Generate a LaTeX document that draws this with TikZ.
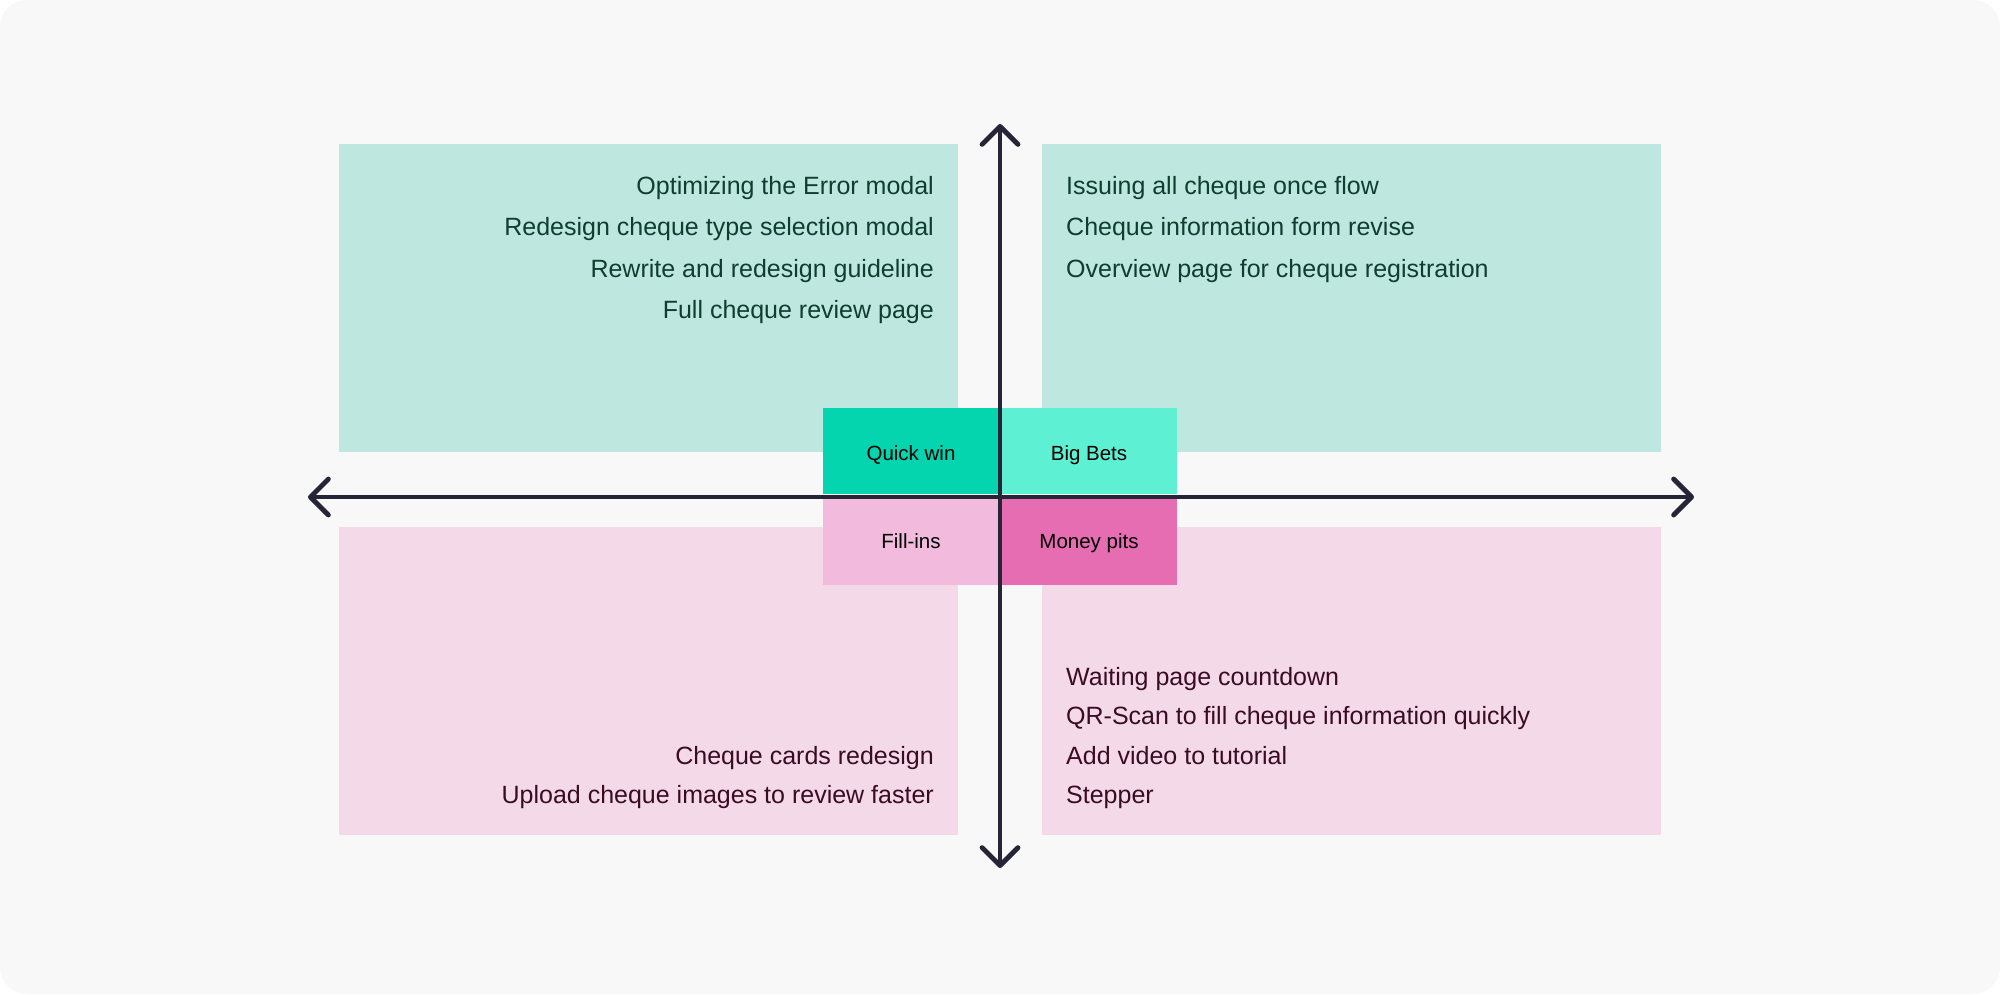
\documentclass[tikz,border=0pt]{standalone}
\usepackage{fontspec}
\setmainfont{Liberation Sans}
\usetikzlibrary{arrows.meta}
\definecolor{bgc}{HTML}{F8F8F8}
\definecolor{mint}{HTML}{BEE8DF}
\definecolor{pinkq}{HTML}{F4DAE9}
\definecolor{qwin}{HTML}{04D5AE}
\definecolor{bbets}{HTML}{5DF0D3}
\definecolor{fillc}{HTML}{F2BADC}
\definecolor{mpits}{HTML}{E66DB2}
\definecolor{axisc}{HTML}{262538}
\definecolor{greentxt}{HTML}{0F3D30}
\definecolor{pinktxt}{HTML}{3A0C24}
\tikzset{
  tagbox/.style={draw=none, inner sep=0pt, outer sep=0pt, minimum width=176pt, minimum height=86pt},
  tagtext/.style={font=\fontsize{20.5}{24}\selectfont, text=black, anchor=base, inner sep=0pt},
  itemg/.style={font=\fontsize{25}{29}\selectfont, text=greentxt, inner sep=0pt},
  itemp/.style={font=\fontsize{25}{29}\selectfont, text=pinktxt, inner sep=0pt},
  axisline/.style={draw=axisc, line width=4.8pt, line cap=round, line join=round,
    arrows={Straight Barb[length=18pt, width=36pt, round]-Straight Barb[length=18pt, width=36pt, round]}}
}
\begin{document}
\begin{tikzpicture}[x=1pt, y=-1pt]
\useasboundingbox (0,0) rectangle (2000,994);
\fill[white] (0,0) rectangle (2000,994);
\fill[bgc, rounded corners=27pt] (0,0) rectangle (2000,994);
% quadrant areas
\fill[mint] (339,144) rectangle (958,452);
\fill[mint] (1042,144) rectangle (1661,452);
\fill[pinkq] (339,527) rectangle (958,835);
\fill[pinkq] (1042,527) rectangle (1661,835);
% category tags
\node[tagbox, fill=qwin, anchor=north west] (qw) at (823,408) {};
\node[tagbox, fill=bbets, anchor=north west] (bb) at (1001,408) {};
\node[tagbox, fill=fillc, anchor=north west] (fi) at (823,499) {};
\node[tagbox, fill=mpits, anchor=north west] (mp) at (1001,499) {};
\node[tagtext] (qwt) at (911,460) {Quick win};
\node[tagtext] (bbt) at (1089,460) {Big Bets};
\node[tagtext] (fit) at (911,548) {Fill-ins};
\node[tagtext] (mpt) at (1089,548) {Money pits};
% top-left items
\node[itemg, anchor=base east] (tl1) at (934,194) {Optimizing the Error modal};
\node[itemg, anchor=base east] (tl2) at (934,235) {Redesign cheque type selection modal};
\node[itemg, anchor=base east] (tl3) at (934,277) {Rewrite and redesign guideline};
\node[itemg, anchor=base east] (tl4) at (934,318) {Full cheque review page};
% top-right items
\node[itemg, anchor=base west] (tr1) at (1066,194) {Issuing all cheque once flow};
\node[itemg, anchor=base west] (tr2) at (1066,235) {Cheque information form revise};
\node[itemg, anchor=base west] (tr3) at (1066,277) {Overview page for cheque registration};
% bottom-left items
\node[itemp, anchor=base east] (bl1) at (934,764) {Cheque cards redesign};
\node[itemp, anchor=base east] (bl2) at (934,803) {Upload cheque images to review faster};
% bottom-right items
\node[itemp, anchor=base west] (br1) at (1066,685) {Waiting page countdown};
\node[itemp, anchor=base west] (br2) at (1066,724) {QR-Scan to fill cheque information quickly};
\node[itemp, anchor=base west] (br3) at (1066,764) {Add video to tutorial};
\node[itemp, anchor=base west] (br4) at (1066,803) {Stepper};
% axes
\coordinate (vtop) at (1000,124);
\coordinate (vbot) at (1000,868);
\coordinate (hleft) at (308,497);
\coordinate (hright) at (1694,497);
\draw[axisline] (vbot) -- (vtop);
\draw[axisline] (hleft) -- (hright);
\end{tikzpicture}
\end{document}
